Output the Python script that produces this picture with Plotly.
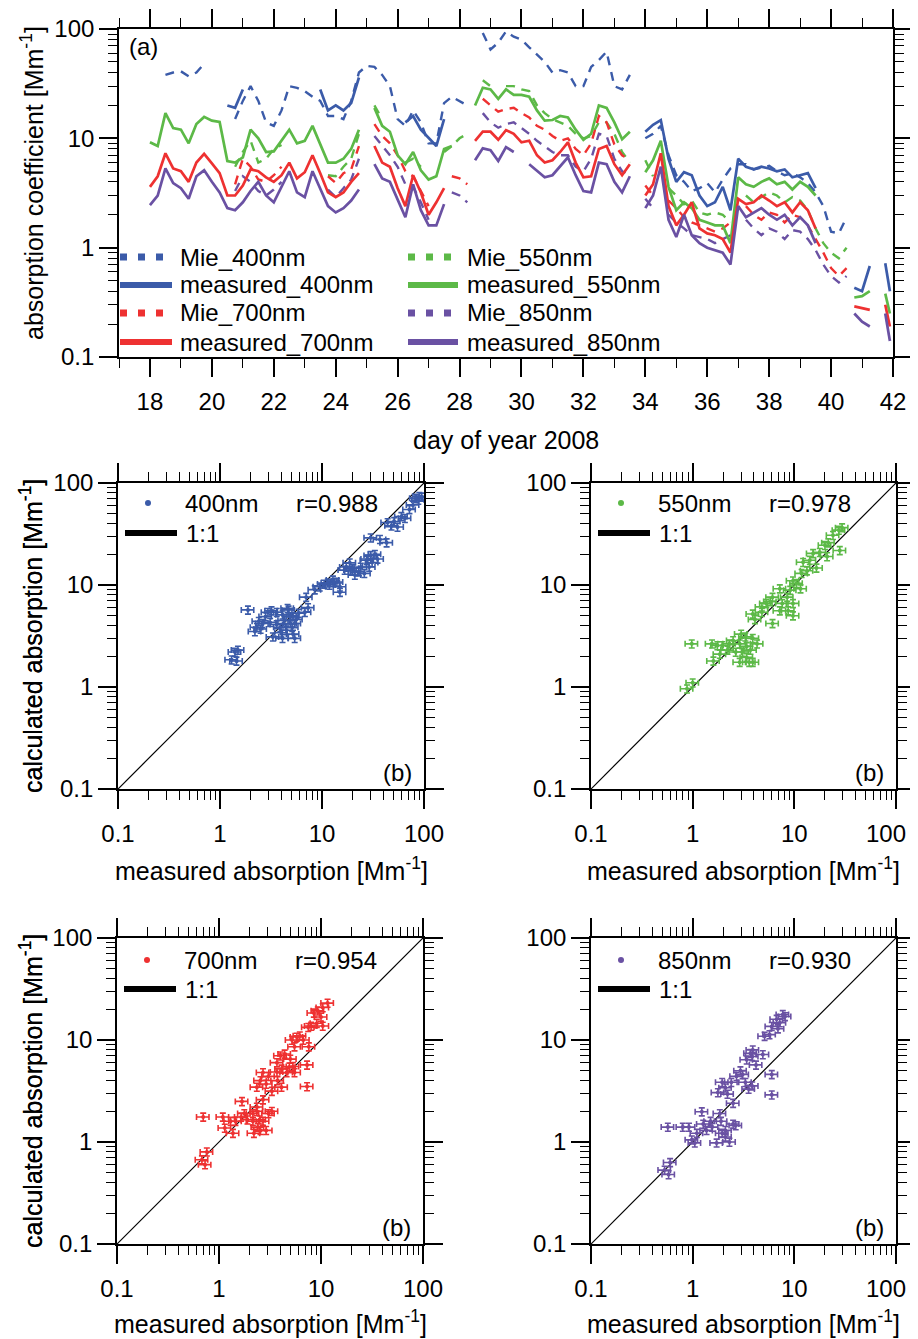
import plotly.graph_objects as go

N = None
# the page body adds an 8px margin; the figure is sized so that it ends at the window edge
OFF = 8
W, H = 918 - OFF, 1339 - OFF

# ---------------- time series (panel a) ----------------
days = [18 + 0.25 * i for i in range(96)] + [41.9]

meas_400 = [
    N, N, N, N,  N, N, N, N,  N, N, 20, 19,  28, N, N, N,
    N, N, N, N,  N, N, 28, 18,  20, 18, 21, 36,  N, N, N, N,
    N, 14, 16, 12,  10, 8.5, 15, N,  N, N, N, N,  N, N, N, N,
    N, N, N, N,  N, N, N, N,  N, N, N, N,  N, N, N, N,
    11.5, 13.3, 14.7, 6.5,  4.0, 4.9, 4.6, 3.0,  2.4, 2.6, 3.6, 2.2,  6.5, 5.5, 5.2, 5.5,
    5.3, 5.0, 5.2, 4.4,  4.6, 4.8, 3.5, N,  N, N, N, 0.43,  0.40, 0.68, N, 0.72,
    0.40]

meas_550 = [
    9.2, 8.5, 17, 12.4,  12.0, 9.0, 13.5, 15.7,  14.5, 14.1, 6.2, 6.0,  6.7, 12, 10, 7.5,
    7.6, 9.5, 12, 9.0,  9.5, 13, 9.0, 6.0,  6.0, 6.5, 8.0, 12,  N, 19, 13, 11.5,
    7.0, 5.8, 7.5, 5.1,  4.2, 4.5, 8.0, 8.5,  N, N, 20, 29,  28, 23, 28, 25,
    25, 24, 18, 14.5,  14.7, 16, 15.5, 12,  9.7, 11, 20, 19,  14, 9.8, 11.5, N,
    4.9, 6.3, 9.5, 3.6,  2.2, 2.6, 2.3, 1.8,  1.7, 1.6, 1.6, 1.1,  4.4, 3.8, 3.6, 4.0,
    4.3, 3.8, 4.0, 3.4,  4.0, 3.6, 3.0, N,  N, N, N, 0.35,  0.36, 0.40, N, 0.38,
    0.25]

meas_700 = [
    3.6, 4.5, 7.3, 5.3,  5.0, 4.0, 6.0, 7.2,  5.9, 4.8, 3.0, 3.0,  3.7, 5.2, 5.0, 4.4,
    4.0, 4.6, 6.0, 4.3,  4.9, 7.0, 4.8, 3.2,  2.9, 3.2, 4.0, 4.8,  N, 8.5, 6.0, 5.5,
    3.5, 2.4, 4.6, 3.2,  2.0, 2.6, 3.5, N,  N, N, 9.5, 11.5,  11.5, 9.7, 11.9, 11.0,
    9.2, 9.5, 7.0, 6.0,  6.3, 7.5, 9.2, 6.0,  4.4, 4.5, 8.0, 8.5,  5.8, 4.6, 5.8, N,
    3.0, 3.8, 7.3, 2.4,  1.6, 2.0, 2.6, 1.5,  1.35, 1.3, 1.2, 0.9,  2.8, 2.5, 2.6, 3.0,
    2.7, 2.4, 2.6, 2.1,  2.6, 2.2, 1.5, N,  N, N, N, 0.29,  0.28, 0.27, N, 0.30,
    0.19]

meas_850 = [
    2.45, 3.0, 5.3, 3.9,  3.5, 2.8, 4.5, 5.1,  4.0, 3.2, 2.3, 2.2,  2.6, 3.3, 4.0, 3.0,
    2.6, 3.6, 5.0, 3.2,  2.9, 5.0, 3.4, 2.4,  2.1, 2.3, 2.7, 3.4,  N, 5.8, 4.3, 4.0,
    2.8, 1.9, 3.8, 2.2,  1.6, 1.6, 2.5, N,  N, N, 6.3, 8.1,  7.8, 6.2, 8.3, 7.5,
    N, 5.8, 5.0, 4.4,  4.6, 5.5, 6.7, 4.6,  3.3, 3.2, 6.0, 5.8,  4.0, 3.2, 4.5, N,
    2.3, 3.0, 5.5, 1.8,  1.25, 2.0, 1.3, 1.1,  1.0, 0.95, 0.9, 0.7,  2.4, 1.9, 2.1, 2.3,
    2.0, 1.8, 2.0, 1.6,  1.9, 1.6, 1.1, N,  N, N, N, 0.25,  0.21, 0.19, N, 0.25,
    0.14]

mie_400 = [
    N, N, 38, 40,  41, 37, 40, 48,  N, N, N, 15,  22, 30, 22, 14,
    13, 18, 30, 29,  27, 24, 22, 16,  16, 15, 22, 40,  46, 45, 38, 30,
    15, 13, 18, 14,  9, 9, 21, 24,  22, 20, N, 92,  65, 75, 95, 85,
    80, 68, 58, 50,  40, 42, 40, 30,  30, 45, 52, 62,  30, 28, 38, N,
    10, 11, 13, 7,  4.6, 4.0, 3.3, 3.5,  3.9, 3.2, 4.2, 5.3,  5.8, 5.8, 5.2, 5.4,
    5.6, 5.0, 4.6, 4.8,  4.4, 3.9, 3.2, 2.4,  1.4, 1.35, 1.9, N,  N, N, N, N,
    N]

mie_550 = [
    N, N, N, N,  N, N, N, N,  N, N, N, 5.5,  7.5, 9.5, 6.0, 6.5,
    8.0, 8.7, N, N,  N, N, N, 4.6,  4.5, 5.5, 6.5, 11,  N, 20, 15, N,
    N, 6.0, 6.5, 5.5,  N, N, 7.5, 8.5,  10, 11, N, 34,  30, N, 30, 30,
    28, 27, 20, 17,  15, 14, 13, 11,  10, 10.5, 14, 14,  11, 7.5, 6.0, N,
    6.3, 4.5, N, 3.5,  3.0, 2.5, 2.7, 2.1,  2.0, 2.1, 2.0, 1.7,  N, 3.0, 2.6, 2.9,
    3.2, 3.0, 2.6, 2.9,  2.7, 2.2, 1.5, 1.1,  0.9, 0.8, 1.0, N,  N, N, N, N,
    N]

mie_700 = [
    N, N, N, N,  N, N, N, N,  N, N, N, 3.8,  6.5, 5.5, 4.2, 4.0,
    4.6, 5.5, N, N,  N, N, N, 4.5,  3.9, 4.8, 5.2, 8.5,  N, 13.5, 10.5, 9.0,
    7.0, 5.0, 4.5, 3.3,  2.4, N, N, 4.5,  4.3, 3.8, N, 23,  20, 17.5, 18.5, 19,
    17, 15.5, 13, 12,  10.5, 9.5, 10, 8.0,  7.0, 9.0, 16, 14,  8.8, 7.0, 6.3, N,
    3.7, 3.0, N, 2.7,  2.3, 1.9, 1.7, 1.6,  1.5, 1.4, 1.5, 1.7,  N, 2.4, 2.0, 1.8,
    2.1, 2.0, 1.7, 2.0,  1.9, 1.6, 1.2, 0.9,  0.65, 0.55, 0.65, N,  N, N, N, N,
    N]

mie_850 = [
    N, N, N, N,  N, N, N, N,  N, N, N, 3.3,  4.5, 4.0, 3.3, 3.0,
    3.4, 4.0, N, N,  N, N, N, 3.4,  2.9, 3.5, 4.2, 6.5,  N, 10.5, 8.5, 7.0,
    5.5, 3.8, 3.6, 2.6,  1.8, N, N, 3.2,  3.0, 2.6, N, 17,  14, 12.5, 13.5, 14,
    12.5, 11, 9.5, 8.5,  7.5, 7.0, 7.0, 5.5,  5.0, 6.5, 11, 10.5,  6.5, 5.0, 4.6, N,
    2.8, 2.3, N, 2.0,  1.7, 1.5, 1.3, 1.25,  1.2, 1.1, 1.2, 1.3,  N, 1.8, 1.5, 1.3,
    1.5, 1.4, 1.2, 1.45,  1.4, 1.2, 0.95, 0.7,  0.55, 0.48, 0.55, N,  N, N, N, N,
    N]

for s in (meas_400, meas_550, meas_700, meas_850, mie_400, mie_550, mie_700, mie_850):
    assert len(s) == len(days), len(s)

# ---------------- scatter data (panels b) ----------------
s400_meas = [1.88, 1.4, 1.3, 1.45, 1.5, 2.3, 2.2, 2.6, 2.95, 3.6, 3.1, 3.6, 3.3, 4.1, 4.3, 4.7,
             4.9, 5.1, 5.2, 4.1, 5.4, 4.9, 4.5, 3.9, 5.4, 5.9, 5.2, 4.0, 2.5, 2.8, 6.8, 7.3,
             7.0, 8.5, 9.5, 11.4, 12.8, 11.8, 14, 15, 15, 18.7, 16.7, 17.3, 20, 21, 23, 24,
             27.5, 30, 33, 31, 29, 35, 30, 37, 43, 44, 51, 55, 60, 65, 78, 84, 95, 88,
             3.2, 4.6, 5.6, 2.4, 26, 28, 19, 13, 10.5, 48, 72, 90]
s400_calc = [5.7, 2.2, 1.85, 1.8, 2.3, 3.85, 3.5, 4.2, 5.4, 5.4, 4.3, 4.1, 3.1, 5.1, 4.5, 5.7,
             4.9, 3.85, 3.3, 3.0, 3.0, 4.2, 3.6, 3.85, 4.2, 5.3, 4.9, 3.4, 3.7, 4.9, 5.4, 6.0,
             7.6, 9.0, 9.6, 10.5, 11.2, 10, 10.7, 9.6, 8.5, 16.5, 14, 15, 14.6, 12.5, 13.5, 15,
             17.5, 19.5, 20, 16.6, 15, 18, 29, 28, 26, 41, 42, 37, 47, 45, 61, 71, 73, 68,
             5.6, 5.9, 4.6, 4.4, 13, 18, 14, 10.6, 10.2, 38, 55, 74]

s550_meas = [0.88, 1.0, 0.98, 1.55, 1.6, 1.85, 1.95, 2.3, 2.5, 3.0, 2.9, 3.1, 3.4, 2.9, 3.6, 3.9,
             3.7, 3.4, 4.3, 3.9, 3.3, 2.2, 1.75, 2.65, 3.9, 4.1, 4.8, 5.3, 5.8, 6.1, 7.2, 7.6,
             8.5, 8.7, 9.7, 9.7, 9.1, 10.5, 9.7, 11.8, 11.5, 13.3, 12.2, 14.2, 15.3, 17.8, 20, 21.6,
             24, 27.4, 29.5, 28, 21, 16.5, 7.2, 6.1, 4.8]
s550_calc = [0.96, 1.1, 2.65, 2.65, 1.8, 2.1, 2.55, 2.65, 2.85, 3.3, 2.65, 2.2, 1.95, 1.75, 1.75, 1.75,
             2.3, 2.5, 2.65, 3.0, 3.1, 2.3, 2.55, 2.2, 5.2, 4.6, 5.4, 6.6, 6.9, 4.2, 5.6, 6.6,
             7.6, 5.6, 5.0, 6.6, 8.9, 10.4, 11, 13, 9.2, 13.8, 16.7, 17.5, 20.4, 20.9, 24.5, 26,
             30.7, 34.5, 36.5, 21.8, 19, 14.7, 9.2, 7.6, 6.1]

s700_meas = [0.68, 0.76, 0.73, 0.70, 1.09, 1.14, 1.3, 1.45, 1.68, 1.77, 1.65, 1.37, 1.9, 2.15, 2.15, 2.35,
             2.5, 2.7, 2.4, 2.9, 3.05, 3.3, 2.2, 2.55, 2.35, 2.7, 2.35, 2.55, 2.9, 2.7, 3.05, 3.7,
             3.3, 3.75, 4.1, 4.6, 4.9, 3.7, 4.0, 4.4, 5.0, 5.3, 4.1, 5.5, 7.3, 7.3, 5.2, 5.8,
             5.5, 6.2, 6.7, 7.6, 7.5, 8.0, 9.1, 10.4, 8.5, 9.3, 10.4, 11.6, 10]
s700_calc = [0.67, 0.8, 0.6, 1.76, 1.76, 1.37, 1.6, 1.6, 2.5, 1.9, 1.76, 1.22, 1.65, 1.6, 1.9, 2.0,
             1.65, 1.6, 1.4, 1.3, 1.9, 2.0, 1.22, 1.3, 2.2, 2.6, 3.45, 4.0, 3.7, 4.8, 4.4, 4.85,
             3.15, 4.0, 3.45, 4.8, 5.45, 6.0, 7.0, 7.3, 6.5, 5.5, 5.2, 4.8, 5.7, 3.5, 10, 10.7,
             8.6, 11, 10, 8.6, 13.3, 13.7, 14.6, 13.7, 18.4, 19.3, 20.8, 23, 16.8]

s850_meas = [0.53, 0.6, 0.58, 0.57, 0.8, 0.92, 0.98, 1.05, 1.1, 1.23, 1.27, 1.37, 1.5, 1.55, 1.72, 1.85,
             1.9, 1.95, 2.1, 2.3, 2.5, 2.65, 2.1, 1.77, 1.95, 2.1, 2.2, 2.4, 2.5, 2.7, 2.95, 3.1,
             3.3, 3.55, 3.85, 3.4, 3.7, 3.9, 3.85, 4.2, 4.9, 6.0, 6.0, 5.1, 5.7, 6.0, 6.7, 7.2,
             7.7, 8.1, 6.9]
s850_calc = [0.53, 0.63, 0.48, 1.4, 1.4, 1.4, 1.05, 0.98, 1.22, 1.98, 1.5, 1.3, 1.6, 1.4, 0.98, 1.9,
             1.6, 1.22, 1.3, 1.0, 1.5, 1.45, 1.12, 3.05, 3.85, 3.4, 2.95, 3.85, 2.4, 4.4, 5.0, 4.6,
             3.85, 3.3, 3.55, 6.4, 7.4, 8.0, 6.9, 5.7, 7.2, 4.6, 2.9, 10.9, 11.3, 13.6, 16.0, 14.8,
             17.8, 17, 12.9]

r_values = ["r=0.988", "r=0.978", "r=0.954", "r=0.930"]
wl_labels = ["400nm", "550nm", "700nm", "850nm"]
top_legend_labels = [["Mie_400nm", "measured_400nm", "Mie_700nm", "measured_700nm"],
                     ["Mie_550nm", "measured_550nm", "Mie_850nm", "measured_850nm"]]
decade_labels = ["0.1", "1", "10", "100"]
# right-column panels: pad the last label so it stays inside the page edge
decade_labels_right = ["0.1", "1", "10", "100\u00a0\u00a0\u00a0"]

# ---------------- styling ----------------
BLUE, GREEN, RED, PURPLE = "#3B5BA9", "#5CB947", "#EE3131", "#6A51A3"
FONT = "Liberation Sans, Arial, Helvetica, sans-serif"
FS = 24

def px_x(p):
    return (p - OFF) / W

def px_y(p):
    return 1 - (p - OFF) / H

fig = go.Figure()

series = [
    ("400nm", BLUE, meas_400, mie_400),
    ("550nm", GREEN, meas_550, mie_550),
    ("700nm", RED, meas_700, mie_700),
    ("850nm", PURPLE, meas_850, mie_850),
]
for name, col, meas, mie in series:
    fig.add_trace(go.Scatter(x=days, y=mie, mode="lines", name="Mie_" + name, showlegend=False,
                             line=dict(color=col, width=2.4, dash="9px,7px"),
                             xaxis="x", yaxis="y"))
for name, col, meas, mie in series:
    fig.add_trace(go.Scatter(x=days, y=meas, mode="lines", name="measured_" + name, showlegend=False,
                             line=dict(color=col, width=2.7),
                             xaxis="x", yaxis="y"))

# scatter panels
sc = [(s400_meas, s400_calc, BLUE), (s550_meas, s550_calc, GREEN),
      (s700_meas, s700_calc, RED), (s850_meas, s850_calc, PURPLE)]
for i, (mx, my, col) in enumerate(sc):
    ax = str(i + 2)
    fig.add_trace(go.Scatter(x=[0.1, 100], y=[0.1, 100], mode="lines", showlegend=False,
                             line=dict(color="black", width=1.2),
                             xaxis="x" + ax, yaxis="y" + ax))
    fig.add_trace(go.Scatter(x=mx, y=my, mode="markers", name=wl_labels[i], showlegend=False,
                             marker=dict(color=col, size=4),
                             error_x=dict(type="percent", value=14, color=col, thickness=1.6, width=3),
                             error_y=dict(type="percent", value=9, color=col, thickness=1.6, width=3),
                             xaxis="x" + ax, yaxis="y" + ax))

# ---------------- axes ----------------
decades = [0.1, 1, 10, 100]
minor_vals = [m * d for d in (0.1, 1, 10) for m in range(2, 10)]

def log_axis(domain, anchor, standoff=0, labels=decade_labels):
    return dict(type="log", range=[-1, 2], domain=domain, anchor=anchor,
                tickmode="array", tickvals=decades, ticktext=labels,
                ticks="outside", ticklen=18, tickwidth=1.5, tickcolor="black",
                showline=True, linecolor="black", linewidth=1.6, mirror="ticks",
                showgrid=False, zeroline=False, automargin=False,
                ticklabelstandoff=standoff, ticklabeloverflow="allow",
                tickfont=dict(size=FS, family=FONT, color="black"),
                minor=dict(tickmode="array", tickvals=minor_vals, ticks="outside",
                           ticklen=9, tickwidth=1.3, tickcolor="black", showgrid=False))

layout_axes = dict(
    xaxis=dict(range=[17, 42], domain=[px_x(119), px_x(893)], anchor="y",
               tickmode="linear", tick0=18, dtick=2,
               ticks="outside", ticklen=18, tickwidth=1.5, tickcolor="black",
               showline=True, linecolor="black", linewidth=1.6, mirror="ticks",
               showgrid=False, zeroline=False, automargin=False, ticklabelstandoff=4,
               ticklabeloverflow="allow",
               tickfont=dict(size=FS, family=FONT, color="black"),
               minor=dict(dtick=1, tick0=17, ticks="outside", ticklen=9, tickwidth=1.3,
                          tickcolor="black", showgrid=False)),
    yaxis=log_axis([px_y(357), px_y(29)], "x"),
)

p_hor = [(118, 424), (591, 896), (117, 423), (591, 896)]
p_vert = [(483, 789), (483, 789), (938, 1244), (938, 1244)]
for i in range(4):
    ax = str(i + 2)
    (x0, x1), (y0, y1) = p_hor[i], p_vert[i]
    labs = decade_labels_right if i in (1, 3) else decade_labels
    layout_axes["xaxis" + ax] = log_axis([px_x(x0), px_x(x1)], "y" + ax, standoff=4, labels=labs)
    layout_axes["yaxis" + ax] = log_axis([px_y(y1), px_y(y0)], "x" + ax)

fig.update_layout(**layout_axes)

# ---------------- annotations and legend keys ----------------
ann = []
shapes = []

def text(x, y, s, xanchor="center", angle=0, size=FS):
    ann.append(dict(x=px_x(x), y=px_y(y), xref="paper", yref="paper", text=s,
                    showarrow=False, xanchor=xanchor, yanchor="middle", textangle=angle,
                    font=dict(size=size, family=FONT, color="black")))

def key_line(xa, xb, y, color, width, dash="solid"):
    shapes.append(dict(type="line", xref="paper", yref="paper",
                       x0=px_x(xa), x1=px_x(xb), y0=px_y(y), y1=px_y(y),
                       line=dict(color=color, width=width, dash=dash)))

def key_dot(xc, yc, r, color):
    shapes.append(dict(type="circle", xref="paper", yref="paper",
                       x0=px_x(xc - r), x1=px_x(xc + r), y0=px_y(yc + r), y1=px_y(yc - r),
                       line=dict(width=0), fillcolor=color))

# panel (a) legend: two columns, four rows
rows_y = [257, 285, 313, 342]
col_colors = [[BLUE, BLUE, RED, RED], [GREEN, GREEN, PURPLE, PURPLE]]
col_x = [(120, 172, 178), (408, 458, 465)]
for c in range(2):
    xa, xb, xt = col_x[c]
    for r in range(4):
        lab = top_legend_labels[c][r]
        if lab.startswith("Mie"):
            key_line(xa, xb - 5, rows_y[r], col_colors[c][r], 7, "7px,11px")
        else:
            key_line(xa, xb, rows_y[r], col_colors[c][r], 6)
        text(xt, rows_y[r], lab, xanchor="left")

text(127, 47, "(a)", xanchor="left")
text(32, 183, "absorption coefficient [Mm<sup>-1</sup>]", angle=-90, size=25)
text(506, 440, "day of year 2008", size=25)

for i in range(4):
    (x0, x1), (y0, y1) = p_hor[i], p_vert[i]
    r1, r2 = (20, 50) if i < 2 else (22, 51)
    key_dot(x0 + 30, y0 + r1, 3, sc[i][2])
    text(x0 + 65, y0 + r1, wl_labels[i], xanchor="left")
    text(x0 + 176, y0 + r1, r_values[i], xanchor="left")
    key_line(x0 + 7, x0 + 59, y0 + r2, "black", 6)
    text(x0 + 66, y0 + r2, "1:1", xanchor="left")
    text(x1 - 10, y1 - 17, "(b)", xanchor="right")
    text(31, (y0 + y1) / 2, "calculated absorption [Mm<sup>-1</sup>]", angle=-90, size=25)
    text((x0 + x1) / 2, y1 + (80 if i < 2 else 78), "measured absorption [Mm<sup>-1</sup>]", size=25)

fig.update_layout(annotations=ann, shapes=shapes, width=W, height=H,
                  margin=dict(l=0, r=0, t=0, b=0),
                  paper_bgcolor="white", plot_bgcolor="white",
                  font=dict(family=FONT, color="black", size=FS),
                  showlegend=False)

fig.write_html("out.html")
